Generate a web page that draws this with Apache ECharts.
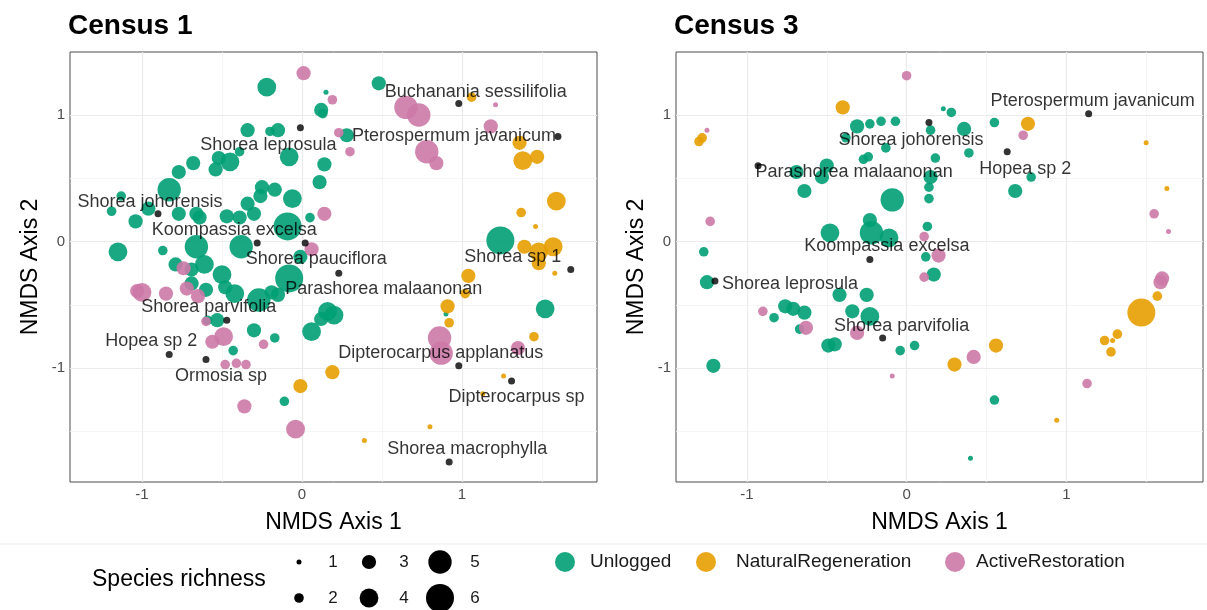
<!DOCTYPE html>
<html><head><meta charset="utf-8">
<script src="https://cdn.jsdelivr.net/npm/echarts@6/dist/echarts.min.js"></script>
<style>html,body{margin:0;padding:0;background:#fff}#c{width:1207px;height:610px}</style>
</head><body><div id="c"></div>
<script>
// ---------------- DATA ----------------
// [NMDS1, NMDS2, species richness]
const c1Unlogged = [
[-0.22,1.22,4],[0.15,1.18,1],[0.12,1.04,3],[0.13,1.01,2],[0.48,1.25,3],[0.28,0.84,3],
[-0.34,0.88,3],[-0.20,0.87,2],[-0.15,0.88,3],[-0.08,0.67,4],[-0.52,0.66,3],[-0.45,0.63,4],
[-0.39,0.71,2],[-0.68,0.62,3],[-0.77,0.55,3],[-0.54,0.57,3],[0.14,0.61,3],[0.11,0.47,3],
[-0.83,0.41,5],[-0.25,0.43,3],[-0.17,0.41,3],[-0.26,0.36,3],[-0.06,0.34,4],[-1.13,0.36,2],
[-1.19,0.24,2],[-1.04,0.16,3],[-0.96,0.26,3],[-0.77,0.22,3],[-0.66,0.22,3],[-0.47,0.20,3],
[-0.39,0.19,3],[-0.30,0.22,3],[-0.34,0.30,3],[-0.09,0.12,6],[0.05,0.19,2],[-0.64,0.19,3],
[-1.15,-0.08,4],[-0.87,-0.07,2],[-0.66,-0.04,5],[-0.38,-0.04,5],[-0.01,-0.12,3],[-0.79,-0.18,3],
[-0.61,-0.18,4],[-0.69,-0.33,3],[-0.60,-0.38,3],[-0.50,-0.26,4],[-0.48,-0.36,3],[-0.42,-0.41,4],
[-0.27,-0.46,5],[-0.19,-0.40,3],[-0.15,-0.42,3],[-0.08,-0.29,6],[-0.59,-0.62,2],[-0.53,-0.62,3],
[-0.43,-0.86,2],[-0.30,-0.70,3],[-0.17,-0.76,2],[0.06,-0.71,4],[0.16,-0.55,4],[0.12,-0.61,3],
[0.20,-0.58,4],[-0.11,-1.26,2],[1.24,0.01,6],[1.52,-0.53,4],[0.90,-0.57,1],[-0.69,-0.22,3]
];
const c1NaturalRegeneration = [
[1.06,1.14,2],[1.36,0.78,3],[1.38,0.64,4],[1.47,0.67,3],[1.59,0.32,4],[1.37,0.23,2],
[1.46,0.12,1],[1.39,-0.04,3],[1.48,-0.08,4],[1.57,-0.04,4],[1.48,-0.17,3],[1.58,-0.25,1],
[1.04,-0.27,3],[1.02,-0.41,2],[0.91,-0.51,3],[0.92,-0.64,2],[1.45,-0.75,2],[1.26,-1.06,1],
[1.13,-1.20,1],[0.80,-1.46,1],[0.39,-1.57,1],[0.19,-1.03,3],[-0.01,-1.14,3]
];
const c1ActiveRestoration = [
[0.01,1.33,3],[0.19,1.12,2],[0.23,0.86,2],[0.30,0.71,2],[0.65,1.06,5],[0.73,1.00,5],
[1.21,1.08,1],[1.18,0.91,3],[0.78,0.71,5],[0.84,0.62,3],[0.14,0.22,3],[0.06,-0.06,3],
[-0.74,-0.21,3],[-0.72,-0.37,3],[-1.00,-0.40,4],[-1.03,-0.39,3],[-0.85,-0.41,3],[-0.65,-0.43,3],
[-0.60,-0.63,2],[-0.56,-0.79,3],[-0.49,-0.75,4],[-0.24,-0.81,2],[-0.48,-0.97,2],[-0.41,-0.96,2],
[-0.35,-0.97,2],[-0.36,-1.30,3],[-0.04,-1.48,4],[0.86,-0.76,5],[0.87,-0.88,5],[1.35,-0.84,3]
];
const c1SpeciesNames = ["Buchanania sessilifolia","Pterospermum javanicum","Shorea leprosula","Shorea johorensis",
"Koompassia excelsa","Shorea pauciflora","Parashorea malaanonan","Shorea sp 1","Shorea parvifolia",
"Hopea sp 2","Ormosia sp","Dipterocarpus applanatus","Dipterocarpus sp","Shorea macrophylla"];
const c1SpeciesScores = [[0.98,1.09],[1.60,0.83],[-0.01,0.90],[-0.90,0.22],[-0.28,-0.01],[0.02,-0.01],
[0.23,-0.25],[1.68,-0.22],[-0.47,-0.62],[-0.83,-0.89],[-0.60,-0.93],[0.98,-0.98],[1.31,-1.10],[0.92,-1.74]];

const c3Unlogged = [
[0.23,1.05,1],[0.28,1.02,2],[0.55,0.94,2],[0.36,0.89,3],[0.15,0.88,2],[0.39,0.70,2],
[0.18,0.66,2],[0.15,0.51,3],[0.14,0.43,2],[0.14,0.34,2],[0.78,0.51,2],[0.68,0.40,3],
[0.13,0.12,2],[0.12,-0.12,2],[0.17,-0.26,3],[-0.31,0.91,3],[-0.23,0.93,2],[-0.16,0.95,2],
[-0.07,0.95,2],[-0.13,0.74,2],[-0.27,0.65,2],[-0.24,0.67,2],[-0.69,0.55,3],[-0.53,0.51,3],
[-0.50,0.60,3],[-0.64,0.40,3],[-0.09,0.33,5],[-0.23,0.17,3],[-0.48,0.07,4],[-0.22,0.07,5],
[-0.11,0.03,4],[-0.38,0.82,2],[-1.27,-0.08,2],[-1.25,-0.32,3],[-0.83,-0.60,2],[-0.76,-0.51,3],
[-0.71,-0.53,3],[-0.64,-0.56,3],[-0.67,-0.69,2],[-0.49,-0.82,3],[-0.45,-0.81,3],[-0.42,-0.42,3],
[-0.34,-0.55,3],[-0.25,-0.42,3],[-0.23,-0.59,4],[-0.04,-0.86,2],[0.05,-0.82,2],[-1.21,-0.98,3],
[0.55,-1.25,2],[0.40,-1.71,1]
];
const c3NaturalRegeneration = [
[-0.40,1.06,3],[-1.28,0.82,2],[-1.30,0.79,2],[0.76,0.93,3],[1.50,0.78,1],[1.63,0.42,1],
[1.57,-0.43,2],[1.47,-0.56,6],[1.32,-0.73,2],[1.24,-0.78,2],[1.29,-0.78,1],[1.28,-0.87,2],
[0.56,-0.82,3],[0.30,-0.97,3],[0.94,-1.41,1]
];
const c3ActiveRestoration = [
[0.00,1.31,2],[-1.25,0.88,1],[-1.23,0.16,2],[0.73,0.84,2],[1.55,0.22,2],[1.64,0.08,1],
[0.11,0.04,2],[0.20,-0.11,3],[0.11,-0.28,2],[1.60,-0.29,3],[1.59,-0.32,3],[-0.90,-0.55,2],
[-0.63,-0.68,3],[-0.31,-0.72,3],[-0.09,-1.06,1],[0.42,-0.91,3],[1.13,-1.12,2]
];
const c3SpeciesNames = ["Pterospermum javanicum","Shorea johorensis","Hopea sp 2","Parashorea malaanonan",
"Koompassia excelsa","Shorea leprosula","Shorea parvifolia"];
const c3SpeciesScores = [[1.14,1.01],[0.14,0.94],[0.63,0.71],[-0.93,0.60],[-0.23,-0.14],[-1.20,-0.31],[-0.15,-0.76]];

const axisTicks = [-1, 0, 1];
const minorTicks = [-1.5, -0.5, 0.5, 1.5];
const panelTitles = ["Census 1", "Census 3"];
const groupNames = ["Unlogged", "NaturalRegeneration", "ActiveRestoration"];
const richnessBreaks = [1, 2, 3, 4, 5, 6];

// ---------------- STYLE ----------------
const FONT = '"Liberation Sans", Arial, Helvetica, sans-serif';
const groupColors = ['#009E73', '#E69F00', '#CC79A7'];
const ALPHA = 0.9;
const SIZE_MIN = 5, SIZE_MAX = 28;
function sizeOf(r) { return SIZE_MIN + (r - 1) * (SIZE_MAX - SIZE_MIN) / 5; }
// label offsets (pixels, label centre relative to point)
const c1LabelOffsets = [[17,-12],[-104,0],[-32,17],[-8,-12],[-23,-13],[11,16],[45,16],[-58,-13],[-18,-13],[-18,-13],[15,17],[-18,-13],[5,16],[18,-13]];
const c3LabelOffsets = [[4,-13],[-18,17],[18,17],[96,6],[17,-13],[75,3],[19,-12]];

const panels = [
  {left: 70, xr: [-1.45, 1.844], groups: [c1Unlogged, c1NaturalRegeneration, c1ActiveRestoration],
   names: c1SpeciesNames, scores: c1SpeciesScores, offsets: c1LabelOffsets},
  {left: 676, xr: [-1.444, 1.856], groups: [c3Unlogged, c3NaturalRegeneration, c3ActiveRestoration],
   names: c3SpeciesNames, scores: c3SpeciesScores, offsets: c3LabelOffsets}
];
const TOP = 52, H = 430, W = 527;
const yRange = [-1.897, 1.497];

const grid = [], xAxis = [], yAxis = [], series = [], graphic = [];
panels.forEach((p, i) => {
  grid.push({left: p.left, top: TOP, width: W, height: H, show: true, borderColor: '#4d4d4d', borderWidth: 1, backgroundColor: 'rgba(0,0,0,0)'});
  xAxis.push({gridIndex: i, type: 'value', min: p.xr[0], max: p.xr[1],
    splitLine: {show: false}, axisLine: {show: false},
    axisTick: {show: true, length: 5, lineStyle: {color: '#333'}, customValues: axisTicks},
    axisLabel: {customValues: axisTicks, color: '#4d4d4d', fontSize: 15, margin: 5, fontFamily: FONT}});
  yAxis.push({gridIndex: i, type: 'value', min: yRange[0], max: yRange[1],
    splitLine: {show: false}, axisLine: {show: false},
    axisTick: {show: true, length: 5, lineStyle: {color: '#333'}, customValues: axisTicks},
    axisLabel: {customValues: axisTicks, color: '#4d4d4d', fontSize: 15, margin: 5, fontFamily: FONT}});
  const gridLines = [];
  const minorStyle = {color: '#f3f3f3', width: 0.8, type: 'solid'};
  const majorStyle = {color: '#ebebeb', width: 1.2, type: 'solid'};
  minorTicks.forEach(v => { gridLines.push({xAxis: v, lineStyle: minorStyle}); gridLines.push({yAxis: v, lineStyle: minorStyle}); });
  axisTicks.forEach(v => { gridLines.push({xAxis: v, lineStyle: majorStyle}); gridLines.push({yAxis: v, lineStyle: majorStyle}); });
  p.groups.forEach((g, k) => {
    const s = {
      type: 'scatter', name: groupNames[k], xAxisIndex: i, yAxisIndex: i, data: g,
      symbolSize: v => sizeOf(v[2]),
      itemStyle: {color: groupColors[k], opacity: ALPHA},
      emphasis: {disabled: true}, z: 2
    };
    if (k === 0) {
      s.markLine = {silent: true, symbol: 'none', z: 1, animation: false, label: {show: false},
        lineStyle: {type: 'solid'}, emphasis: {disabled: true}, data: gridLines};
    }
    series.push(s);
  });
  series.push({
    type: 'scatter', name: 'species', xAxisIndex: i, yAxisIndex: i, symbolSize: 7, z: 4,
    itemStyle: {color: '#000'}, emphasis: {disabled: true},
    label: {show: true, position: 'inside', formatter: '{b}', color: '#000', fontSize: 18, fontFamily: FONT,
      textBorderWidth: 0, textShadowBlur: 0},
    data: p.names.map((n, j) => ({name: n, value: p.scores[j], label: {offset: p.offsets[j]}}))
  });
  // titles and axis names
  graphic.push({type: 'text', x: p.left - 2, y: 26, style: {text: panelTitles[i], font: 'bold 28px ' + FONT, fill: '#000', textAlign: 'left', textVerticalAlign: 'middle'}});
  graphic.push({type: 'text', x: p.left + W / 2, y: 523, style: {text: 'NMDS Axis 1', font: '23px ' + FONT, fill: '#000', textAlign: 'center', textVerticalAlign: 'middle'}});
  graphic.push({type: 'text', x: p.left - 39, y: TOP + H / 2, rotation: Math.PI / 2, style: {text: 'NMDS Axis 2', font: '23px ' + FONT, fill: '#000', textAlign: 'center', textVerticalAlign: 'middle'}});
});

// legend
graphic.push({type: 'line', shape: {x1: 0, y1: 544, x2: 1207, y2: 544}, style: {stroke: '#ebebeb', lineWidth: 1}});
graphic.push({type: 'text', x: 92, y: 580, style: {text: 'Species richness', font: '23px ' + FONT, fill: '#000', textAlign: 'left', textVerticalAlign: 'middle'}});
const sizeCols = [[299, 333], [369, 404], [440, 475]];
const sizeRows = [562, 598];
richnessBreaks.forEach((r, idx) => {
  const col = Math.floor(idx / 2), row = idx % 2;
  graphic.push({type: 'circle', shape: {cx: sizeCols[col][0], cy: sizeRows[row], r: sizeOf(r) / 2}, style: {fill: '#000'}});
  graphic.push({type: 'text', x: sizeCols[col][1], y: sizeRows[row], style: {text: String(r), font: '17px ' + FONT, fill: '#1a1a1a', textAlign: 'center', textVerticalAlign: 'middle'}});
});
const legendPos = [[565, 590], [706, 736], [955, 976]];
groupNames.forEach((n, k) => {
  graphic.push({type: 'circle', shape: {cx: legendPos[k][0], cy: 562, r: 10}, style: {fill: groupColors[k], opacity: ALPHA}});
  graphic.push({type: 'text', x: legendPos[k][1], y: 562, style: {text: n, font: '19px ' + FONT, fill: '#1a1a1a', textAlign: 'left', textVerticalAlign: 'middle'}});
});

const chart = echarts.init(document.getElementById('c'), null, {renderer: 'canvas'});
chart.setOption({
  animation: false,
  backgroundColor: '#fff',
  grid, xAxis, yAxis, series, graphic
});
</script>
</body></html>
